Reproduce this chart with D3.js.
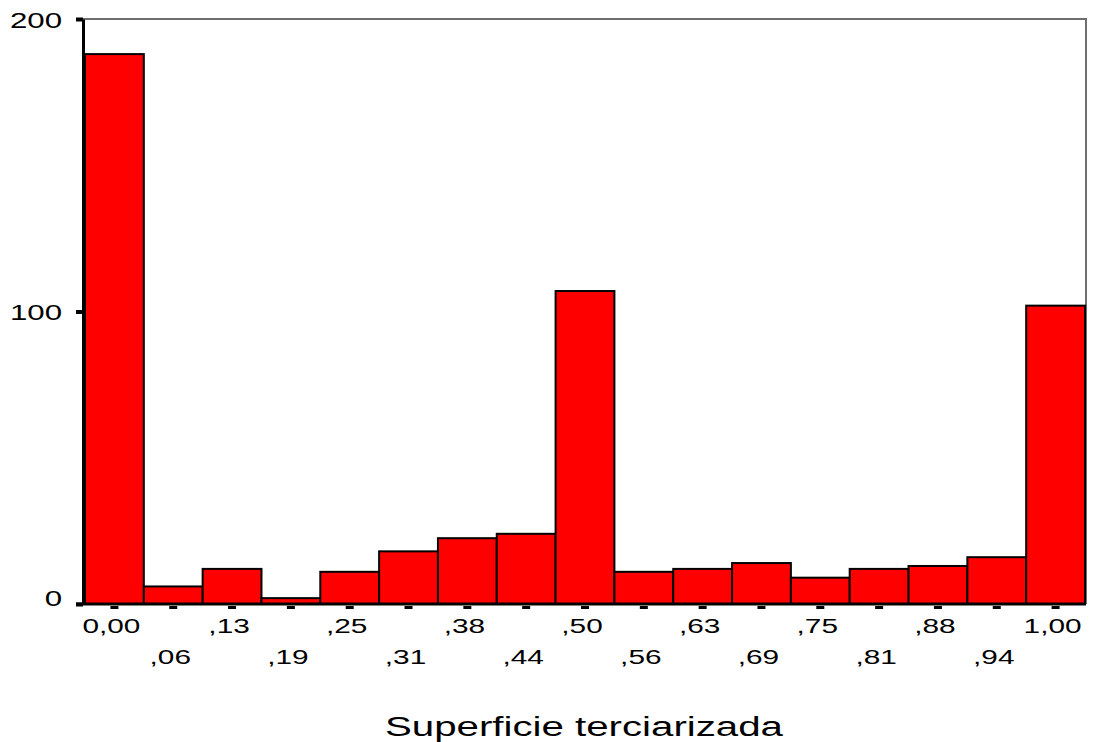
<!DOCTYPE html>
<html>
<head>
<meta charset="utf-8">
<script src="https://cdn.jsdelivr.net/npm/d3@7"></script>
<style>
  body { margin: 0; background: #fff; }
  text { font-family: "Liberation Sans", Arial, sans-serif; fill: #000; }
</style>
</head>
<body>
<div id="chart"></div>
<script>
// histogram data
const categories = ["0,00", ",06", ",13", ",19", ",25", ",31", ",38", ",44", ",50",
                    ",56", ",63", ",69", ",75", ",81", ",88", ",94", "1,00"];
const counts = [188, 6, 12, 2, 11, 18, 22.5, 24, 107, 11, 12, 14, 9, 12, 13, 16, 102];
const yTicks = [0, 100, 200];
const xTitle = "Superficie terciarizada";

(function() {
    const W = 1094, H = 742;
    const plotLeft = 85, plotRight = 1085, plotTop = 19, plotBottom = 604;
    const stretch = 1.42; // the source image is stretched sideways

    const svg = d3.select("#chart").append("svg")
        .attr("width", W)
        .attr("height", H);

    const x = d3.scaleBand()
        .domain(categories)
        .range([plotLeft, plotRight])
        .padding(0);

    const y = d3.scaleLinear()
        .domain([0, 200])
        .range([plotBottom, plotTop]);

    const data = categories.map((c, i) => ({ cat: c, value: counts[i] }));

    // frame (top + right, grey)
    svg.append("path")
        .attr("d", `M${plotLeft - 2},${plotTop} H${plotRight + 1} V${plotBottom}`)
        .attr("fill", "none")
        .attr("stroke", "#6e6e6e")
        .attr("stroke-width", 2);

    // bars
    svg.append("g")
        .selectAll("rect")
        .data(data)
        .join("rect")
        .attr("x", d => x(d.cat))
        .attr("y", d => y(d.value))
        .attr("width", x.bandwidth())
        .attr("height", d => y(0) - y(d.value))
        .attr("fill", "#ff0000")
        .attr("stroke", "#000")
        .attr("stroke-width", 2);

    // y axis
    const yAxis = svg.append("g")
        .attr("transform", `translate(${plotLeft - 2},0)`)
        .call(d3.axisLeft(y).tickValues(yTicks).tickSizeInner(7).tickSizeOuter(0).tickFormat(d3.format("d")));
    yAxis.select(".domain").attr("stroke", "#000").attr("stroke-width", 3);
    yAxis.selectAll(".tick line").attr("stroke", "#000").attr("stroke-width", 4);
    yAxis.selectAll(".tick text")
        .attr("x", -21 / stretch)
        .attr("font-size", 22)
        .attr("transform", `scale(${stretch},1)`)
        .attr("dy", d => d === 0 ? "0.05em" : "0.38em");

    // x axis
    const xAxis = svg.append("g")
        .attr("transform", `translate(0,${plotBottom})`)
        .call(d3.axisBottom(x).tickSizeInner(0).tickSizeOuter(0));
    xAxis.select(".domain")
        .attr("d", `M${plotLeft - 9},0 H${plotRight + 1}`)
        .attr("stroke", "#000")
        .attr("stroke-width", 3);
    xAxis.selectAll(".tick line")
        .attr("y1", 2)
        .attr("y2", 5)
        .attr("stroke", "#000")
        .attr("stroke-width", 8);
    xAxis.selectAll(".tick text")
        .attr("y", (d, i) => i % 2 === 0 ? 14 : 45)
        .attr("x", -3 / stretch)
        .attr("font-size", 21)
        .attr("transform", `scale(${stretch},1)`);

    // axis title
    svg.append("text")
        .attr("x", (plotLeft + plotRight) / 2 - 1)
        .attr("y", 736)
        .attr("text-anchor", "middle")
        .attr("font-size", 27)
        .attr("textLength", 398)
        .attr("lengthAdjust", "spacingAndGlyphs")
        .text(xTitle);
})();
</script>
</body>
</html>
